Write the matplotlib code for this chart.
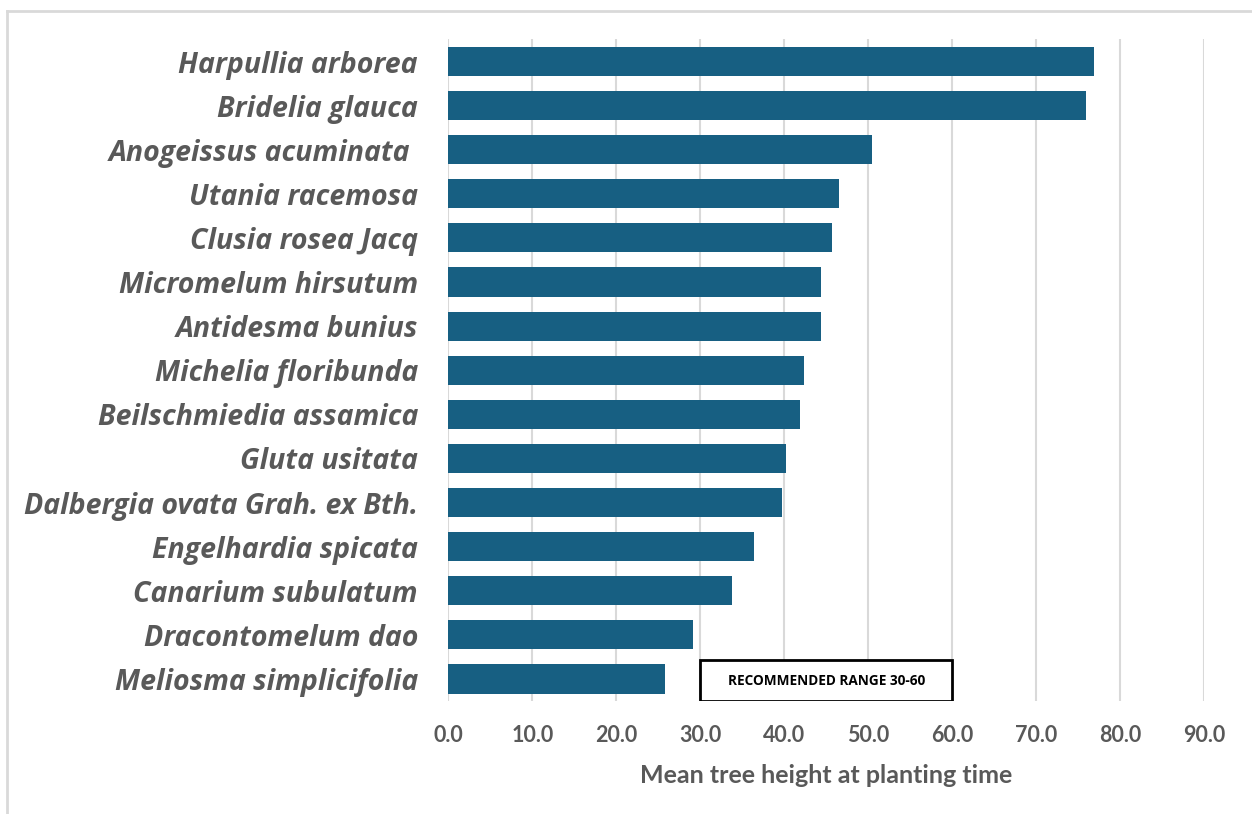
import matplotlib.pyplot as plt
from matplotlib.patches import Rectangle
from matplotlib.lines import Line2D

# Species ordered from tallest to shortest (top to bottom)
species = [
    "Harpullia arborea",
    "Bridelia glauca",
    "Anogeissus acuminata ",
    "Utania racemosa",
    "Clusia rosea Jacq",
    "Micromelum hirsutum",
    "Antidesma bunius",
    "Michelia floribunda",
    "Beilschmiedia assamica",
    "Gluta usitata",
    "Dalbergia ovata Grah. ex Bth.",
    "Engelhardia spicata",
    "Canarium subulatum",
    "Dracontomelum dao",
    "Meliosma simplicifolia",
]
mean_height = [76.9, 75.9, 50.5, 46.5, 45.7, 44.4, 44.4, 42.4, 41.9, 40.2,
               39.7, 36.4, 33.8, 29.1, 25.8]

x_ticks = [0, 10, 20, 30, 40, 50, 60, 70, 80, 90]
range_low, range_high = 30, 60

bar_color = "#175f82"
text_gray = "#595959"
grid_gray = "#d9d9d9"

fig = plt.figure(figsize=(12.52, 8.14), dpi=100)
ax = fig.add_axes([0.3582, 0.1388, 0.6035, 0.8127])

y = list(range(len(species)))
ax.barh(y, mean_height, height=0.66, color=bar_color, zorder=2)

ax.set_ylim(len(species) - 0.5, -0.5)
ax.set_xlim(0, 90)
ax.set_xticks(x_ticks)
ax.set_xticklabels([f"{t:.1f}" for t in x_ticks],
                   fontfamily="Lato", fontweight="bold", fontsize=15.5, color=text_gray)
ax.set_yticks(y)
ax.set_yticklabels(species, fontfamily="Open Sans", fontweight="bold",
                   fontstyle="italic", fontsize=20.5, color=text_gray)
ax.tick_params(axis="both", length=0)
ax.tick_params(axis="x", pad=17)
ax.tick_params(axis="y", pad=22)

ax.grid(axis="x", color=grid_gray, linewidth=1.5, zorder=0)
for spine in ax.spines.values():
    spine.set_visible(False)

ax.set_xlabel("Mean tree height at planting time", fontfamily="Lato",
              fontweight="bold", fontsize=18, color=text_gray, labelpad=13)

# recommended range box sitting on the bottom of the plot area
box = Rectangle((range_low, 13.57), range_high - range_low, 0.93,
                facecolor="white", edgecolor="black", linewidth=2, zorder=3)
ax.add_patch(box)
ax.text((range_low + range_high) / 2, (13.57 + 14.5) / 2, "RECOMMENDED RANGE 30-60",
        ha="center", va="center", fontfamily="Open Sans", fontweight="bold",
        fontsize=9.8, color="black", zorder=4)

# chart frame (left and top edges)
fig.add_artist(Line2D([7 / 1252, 7 / 1252], [0, 1 - 11 / 814],
                      color=grid_gray, linewidth=2, transform=fig.transFigure))
fig.add_artist(Line2D([7 / 1252, 1], [1 - 11 / 814, 1 - 11 / 814],
                      color=grid_gray, linewidth=2, transform=fig.transFigure))

fig.savefig("out.png", dpi=100)
